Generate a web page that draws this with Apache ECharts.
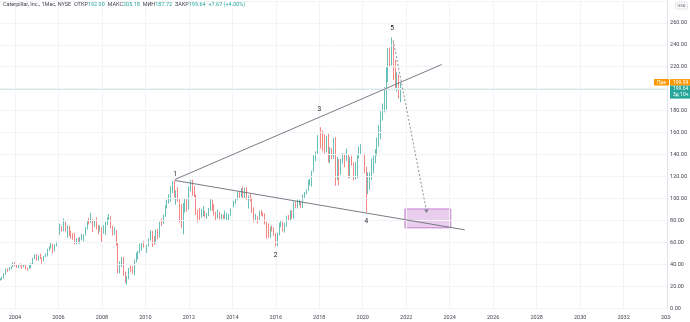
<!DOCTYPE html>
<html><head><meta charset="utf-8">
<script src="https://cdn.jsdelivr.net/npm/echarts@6/dist/echarts.min.js"></script>
<style>html,body{margin:0;padding:0;background:#fff}#c{width:690px;height:322px}</style>
</head><body><div id="c"></div>
<script>
// Monthly bars: [month, open, high, low, close]
const bars2003_2007 = [
['2003-04',24.6,26.9,24.0,26.3],['2003-05',26.3,27.6,25.4,26.5],['2003-06',26.5,29.0,26.0,27.8],['2003-07',27.8,32.0,27.3,31.0],['2003-08',31.0,36.3,30.8,35.8],['2003-09',35.8,36.6,33.3,34.4],['2003-10',34.4,37.5,34.2,36.6],['2003-11',36.6,38.5,35.7,38.0],['2003-12',38.0,42.0,37.8,41.5],
['2004-01',41.5,42.2,38.3,39.3],['2004-02',39.3,39.8,36.9,38.9],['2004-03',38.9,40.2,36.6,39.5],['2004-04',39.5,41.2,38.3,38.9],['2004-05',38.9,39.4,35.9,37.8],['2004-06',37.8,40.2,37.5,39.7],['2004-07',39.7,40.2,35.6,36.8],['2004-08',36.8,37.2,34.3,36.3],['2004-09',36.3,40.5,35.8,40.2],['2004-10',40.2,41.4,37.0,40.3],['2004-11',40.3,46.0,40.0,45.7],['2004-12',45.7,49.4,45.0,48.8],
['2005-01',48.8,49.5,43.5,44.5],['2005-02',44.5,48.2,43.3,47.5],['2005-03',47.5,50.0,45.0,45.7],['2005-04',45.7,46.5,40.8,44.0],['2005-05',44.0,48.0,43.0,47.0],['2005-06',47.0,50.2,46.8,47.7],['2005-07',47.7,54.5,47.4,53.9],['2005-08',53.9,56.7,52.5,55.4],['2005-09',55.4,59.8,54.5,58.8],['2005-10',58.8,59.0,50.2,52.6],['2005-11',52.6,58.5,51.8,57.8],['2005-12',57.8,61.0,56.5,57.8],
['2006-01',57.8,68.4,57.0,67.9],['2006-02',67.9,77.2,67.0,73.1],['2006-03',73.1,75.0,70.0,71.8],['2006-04',71.8,82.0,70.2,75.7],['2006-05',75.7,79.0,70.0,72.9],['2006-06',72.9,75.5,64.4,74.5],['2006-07',74.5,75.2,65.8,70.9],['2006-08',70.9,71.0,63.4,66.3],['2006-09',66.3,68.5,62.5,65.8],['2006-10',65.8,69.0,58.3,60.7],['2006-11',60.7,64.0,58.5,62.0],['2006-12',62.0,64.5,60.0,61.3],
['2007-01',61.3,65.0,58.7,64.1],['2007-02',64.1,68.0,62.0,64.4],['2007-03',64.4,67.4,61.0,67.0],['2007-04',67.0,74.0,66.5,72.6],['2007-05',72.6,79.5,71.8,78.4],['2007-06',78.4,82.5,76.5,78.3],['2007-07',78.3,87.0,78.0,78.8],['2007-08',78.8,81.0,69.6,75.8],['2007-09',75.8,80.0,74.0,78.4],['2007-10',78.4,82.9,72.0,74.6],['2007-11',74.6,76.0,67.5,71.9],['2007-12',71.9,75.5,70.0,72.6]
];
const bars2008_2012 = [
['2008-01',72.6,74.0,59.6,71.1],['2008-02',71.1,76.0,68.0,72.3],['2008-03',72.3,79.0,67.0,78.3],['2008-04',78.3,83.0,76.0,81.9],['2008-05',81.9,85.9,79.5,82.6],['2008-06',82.6,84.0,73.0,73.8],['2008-07',73.8,75.5,66.5,69.5],['2008-08',69.5,74.0,67.0,70.7],['2008-09',70.7,71.5,57.0,59.6],['2008-10',59.6,60.0,31.9,38.2],['2008-11',38.2,43.0,32.0,41.0],['2008-12',41.0,47.0,37.8,44.7],
['2009-01',44.7,47.0,30.0,30.8],['2009-02',30.8,33.5,23.5,24.6],['2009-03',24.6,29.5,21.7,28.0],['2009-04',28.0,37.0,26.5,35.6],['2009-05',35.6,39.0,33.5,35.5],['2009-06',35.5,38.5,31.5,33.0],['2009-07',33.0,44.5,30.0,44.1],['2009-08',44.1,51.0,42.0,45.8],['2009-09',45.8,52.5,44.5,51.3],['2009-10',51.3,59.0,50.0,55.1],['2009-11',55.1,60.0,52.5,58.5],['2009-12',58.5,61.3,55.5,57.0],
['2010-01',57.0,60.5,51.5,52.3],['2010-02',52.3,58.0,50.5,57.1],['2010-03',57.1,63.5,56.5,62.9],['2010-04',62.9,71.0,62.0,68.1],['2010-05',68.1,70.5,56.0,60.8],['2010-06',60.8,66.0,58.0,60.1],['2010-07',60.1,72.0,59.0,69.8],['2010-08',69.8,72.5,63.0,65.1],['2010-09',65.1,79.0,64.5,78.7],['2010-10',78.7,82.0,75.0,78.6],['2010-11',78.6,85.5,77.0,84.5],['2010-12',84.5,94.0,83.5,93.7],
['2011-01',93.7,99.0,91.0,97.0],['2011-02',97.0,104.0,95.5,102.9],['2011-03',102.9,111.5,97.0,111.4],['2011-04',111.4,115.9,105.0,115.4],['2011-05',115.4,116.5,101.0,105.8],['2011-06',105.8,107.5,94.5,106.5],['2011-07',106.5,110.5,97.0,98.8],['2011-08',98.8,99.5,78.3,91.0],['2011-09',91.0,95.0,73.2,73.8],['2011-10',73.8,96.0,67.5,94.5],['2011-11',94.5,100.0,87.5,97.9],['2011-12',97.9,99.5,88.0,90.6],
['2012-01',90.6,111.0,90.0,109.1],['2012-02',109.1,116.9,106.5,114.2],['2012-03',114.2,117.0,102.5,106.5],['2012-04',106.5,111.5,101.5,102.8],['2012-05',102.8,104.0,85.0,87.6],['2012-06',87.6,90.0,78.5,84.9],['2012-07',84.9,91.5,79.8,84.2],['2012-08',84.2,90.5,82.5,85.3],['2012-09',85.3,93.0,84.0,86.0],['2012-10',86.0,89.0,83.0,84.8],['2012-11',84.8,87.0,81.5,85.3],['2012-12',85.3,91.5,84.0,89.6]
];
const bars2013_2017 = [
['2013-01',89.6,99.5,89.0,98.4],['2013-02',98.4,99.0,89.0,92.4],['2013-03',92.4,95.0,84.5,87.0],['2013-04',87.0,88.0,80.5,84.7],['2013-05',84.7,90.0,82.0,85.8],['2013-06',85.8,88.0,81.0,82.5],['2013-07',82.5,86.0,81.0,82.9],['2013-08',82.9,85.5,81.5,82.5],['2013-09',82.5,89.0,81.5,83.4],['2013-10',83.4,87.0,80.0,83.4],['2013-11',83.4,86.0,80.5,84.8],['2013-12',84.8,91.0,84.0,90.8],
['2014-01',90.8,95.0,87.5,94.0],['2014-02',94.0,98.0,92.0,97.0],['2014-03',97.0,100.0,95.0,99.4],['2014-04',99.4,106.5,98.5,105.4],['2014-05',105.4,106.0,100.5,102.2],['2014-06',102.2,109.5,101.5,108.7],['2014-07',108.7,111.0,100.0,100.8],['2014-08',100.8,110.0,100.5,109.2],['2014-09',109.2,110.5,98.5,99.0],['2014-10',99.0,103.0,91.0,101.4],['2014-11',101.4,104.5,97.5,100.6],['2014-12',100.6,101.0,87.0,91.5],
['2015-01',91.5,92.0,78.5,80.0],['2015-02',80.0,86.0,79.5,82.9],['2015-03',82.9,84.0,77.5,80.0],['2015-04',80.0,89.0,79.5,86.9],['2015-05',86.9,89.5,84.5,85.4],['2015-06',85.4,87.5,83.5,84.8],['2015-07',84.8,86.5,76.5,78.6],['2015-08',78.6,79.0,63.5,76.5],['2015-09',76.5,77.5,64.5,65.4],['2015-10',65.4,74.5,64.0,73.0],['2015-11',73.0,75.5,70.0,72.6],['2015-12',72.6,74.0,66.0,68.0],
['2016-01',68.0,68.5,56.4,62.2],['2016-02',62.2,69.0,57.0,67.7],['2016-03',67.7,78.0,66.5,76.5],['2016-04',76.5,80.5,74.0,77.7],['2016-05',77.7,79.0,70.0,72.5],['2016-06',72.5,78.0,69.0,75.8],['2016-07',75.8,84.5,74.5,82.8],['2016-08',82.8,85.0,80.0,81.9],['2016-09',81.9,89.5,79.5,88.8],['2016-10',88.8,89.5,81.5,83.5],['2016-11',83.5,97.5,82.0,96.7],['2016-12',96.7,97.5,91.5,92.7],
['2017-01',92.7,99.0,91.0,95.7],['2017-02',95.7,99.0,94.0,96.7],['2017-03',96.7,97.5,91.5,92.8],['2017-04',92.8,104.0,91.5,102.3],['2017-05',102.3,106.0,99.5,105.4],['2017-06',105.4,108.5,104.0,107.5],['2017-07',107.5,117.0,107.0,114.0],['2017-08',114.0,118.0,112.0,117.5],['2017-09',117.5,125.5,111.0,124.7],['2017-10',124.7,139.5,124.0,135.8],['2017-11',135.8,143.0,134.0,141.1],['2017-12',141.1,158.0,139.5,157.6]
];
const bars2018_2021 = [
['2018-01',157.6,173.2,156.0,162.8],['2018-02',162.8,165.0,145.5,154.7],['2018-03',154.7,162.0,143.0,147.4],['2018-04',147.4,158.5,141.0,144.4],['2018-05',144.4,157.0,142.0,151.9],['2018-06',151.9,159.0,133.0,135.7],['2018-07',135.7,147.0,132.0,143.8],['2018-08',143.8,146.0,136.0,138.8],['2018-09',138.8,155.0,136.5,152.5],['2018-10',152.5,156.0,111.8,121.3],['2018-11',121.3,138.0,117.0,135.7],['2018-12',135.7,136.0,112.1,127.1],
['2019-01',127.1,136.0,121.5,133.2],['2019-02',133.2,141.5,132.0,137.1],['2019-03',137.1,141.0,128.5,135.5],['2019-04',135.5,145.5,134.0,139.4],['2019-05',139.4,140.5,118.5,119.8],['2019-06',119.8,138.0,119.0,136.3],['2019-07',136.3,139.0,130.0,131.7],['2019-08',131.7,133.0,116.5,119.0],['2019-09',119.0,133.5,117.5,126.3],['2019-10',126.3,139.5,118.5,137.8],['2019-11',137.8,147.5,136.5,144.7],['2019-12',144.7,149.5,140.0,147.7],
['2020-01',147.7,150.0,130.5,131.4],['2020-02',131.4,141.0,123.0,124.3],['2020-03',124.3,129.0,87.5,116.0],['2020-04',116.0,124.0,104.0,116.4],['2020-05',116.4,124.0,108.0,120.1],['2020-06',120.1,136.5,117.0,126.5],['2020-07',126.5,139.0,123.0,132.9],['2020-08',132.9,145.0,132.0,142.3],['2020-09',142.3,155.5,139.0,149.2],['2020-10',149.2,167.0,147.0,157.1],['2020-11',157.1,179.5,154.0,173.6],['2020-12',173.6,186.5,171.0,182.0],
['2021-01',182.0,201.5,178.5,182.8],['2021-02',182.8,219.5,181.0,216.0],['2021-03',216.0,237.0,206.0,231.9],['2021-04',231.9,237.5,220.0,228.1],['2021-05',228.1,246.7,221.0,241.1],['2021-06',241.1,242.0,208.0,217.6],['2021-07',217.6,226.5,200.5,206.8],['2021-08',206.8,215.0,197.5,210.9],['2021-09',210.9,213.0,191.0,192.0],['2021-10',192.9,205.18,187.72,199.64]
];
const yearTicks = [2004,2006,2008,2010,2012,2014,2016,2018,2020,2022,2024,2026,2028,2030,2032,2034];
const xStart = 2003.3135, xEnd = 2034;
const lastPrice = 199.64, prePrice = 199.99;
// Annotations in data units: [decimal year, price]
const upperTrend = [[2011.37,117.5],[2023.63,222]];
const lowerTrend = [[2011.37,116.5],[2024.69,71.6]];
const projection = [[2021.40,244],[2022.95,87]];
const targetBox = [[2021.94,90.6],[2024.05,73.4]];
const waveLabels = [['1',2011.37,121.6],['2',2015.99,48],['3',2018.0,181],['4',2020.16,79.6],['5',2021.35,255]];

const allBars = bars2003_2007.concat(bars2008_2012, bars2013_2017, bars2018_2021);
function toYear(s){const p=s.split('-');return +p[0]+(+p[1]-1)/12;}
const candleData = allBars.map(b=>[toYear(b[0]), b[1], b[4], b[3], b[2]]);

const UP='#26a69a', DN='#ef5350', FONT='Roboto, "Liberation Sans", sans-serif';
const chart = echarts.init(document.getElementById('c'), null, {renderer:'canvas'});
chart.setOption({
  animation:false,
  grid:{left:0, right:19.5, top:0.8, bottom:13.5},
  xAxis:{type:'value', min:xStart, max:xEnd,
    offset:4,
    axisLine:{show:true,lineStyle:{color:'#e0e3eb'}}, axisTick:{show:false, customValues:yearTicks},
    axisLabel:{fontSize:5.5,color:'#434651',fontFamily:FONT,margin:2,formatter:v=>String(Math.round(v)),
      customValues:yearTicks, hideOverlap:false},
    splitLine:{show:false}},
  yAxis:{type:'value', position:'right', min:0, max:280, interval:20, z:5,
    axisLine:{show:true,lineStyle:{color:'#e0e3eb'}}, axisTick:{show:false},
    axisLabel:{fontSize:5.5,color:'#434651',fontFamily:FONT,margin:3,formatter:v=>v.toFixed(2),showMaxLabel:false},
    splitLine:{show:true,lineStyle:{color:'#f2f3f6',width:1}}},
  series:[{
    type:'candlestick', data:candleData, barWidth:1.2, clip:true,
    encode:{x:0,y:[1,2,3,4]},
    itemStyle:{color:UP,color0:DN,borderColor:UP,borderColor0:DN,borderWidth:0.7},
    markLine:{silent:true, symbol:'none', animation:false, label:{show:false},
      data:[
        ...yearTicks.map(y=>[{coord:[y,0],lineStyle:{color:'#f2f3f6',width:1,type:'solid'}},{coord:[y,280]}]),
        [{coord:[xStart,lastPrice],lineStyle:{color:'#cfece8',width:1,type:'solid',opacity:1}},{coord:[xEnd,lastPrice]}],
        [{coord:upperTrend[0],lineStyle:{color:'#6a6d78',width:0.9,type:'solid'}},{coord:upperTrend[1]}],
        [{coord:lowerTrend[0],lineStyle:{color:'#6a6d78',width:0.9,type:'solid'}},{coord:lowerTrend[1]}],
        [{coord:projection[0],symbol:'none',lineStyle:{color:'#80838c',width:0.9,type:[2,2]}},{coord:projection[1],symbol:'arrow',symbolSize:[4,4]}]
      ]},
    markArea:{silent:true,
      itemStyle:{color:'rgba(206,147,216,0.45)',borderColor:'#ba68c8',borderWidth:0.8},
      data:[[{coord:targetBox[0]},{coord:targetBox[1]}]]},
    markPoint:{silent:true, symbol:'circle', symbolSize:0,
      label:{show:true,color:'#131722',fontSize:6.5,fontFamily:FONT,formatter:p=>p.name,position:'inside'},
      data:waveLabels.map(w=>({name:w[0],coord:[w[1],w[2]]}))}
  }]
});

const yLast = chart.convertToPixel({xAxisIndex:0,yAxisIndex:0},[2020,lastPrice])[1];
const tealTop = yLast-3.5, orangeTop = tealTop-6.5;
chart.setOption({graphic:[
  {type:'rect',z:100,shape:{x:671,y:313,width:19,height:9},style:{fill:'#fff'}},
  {type:'text',z:100,left:3,top:2,style:{fontFamily:FONT,fontSize:5.5,
    text:'{t|Caterpillar, Inc., 1Мес, NYSE}  {t|ОТКР}{v|192.90}  {t|МАКС}{v|205.18}  {t|МИН}{v|187.72}  {t|ЗАКР}{v|199.64}  {v|+7.67 (+4.00%)}',
    rich:{t:{fill:'#434651',fontSize:5.5,fontFamily:FONT},v:{fill:'#26a69a',fontSize:5.5,fontFamily:FONT}}}},
  {type:'rect',z:100,shape:{x:675.5,y:2,width:12,height:7,r:2},style:{fill:'#fff',stroke:'#c9ccd4',lineWidth:0.6}},
  {type:'text',z:101,style:{x:681.5,y:5.5,text:'USD',fontSize:4.2,fill:'#434651',align:'center',verticalAlign:'middle',fontFamily:FONT}},
  {type:'rect',z:100,shape:{x:654,y:orangeTop,width:15,height:6.5,r:0.5},style:{fill:'#ff9800'}},
  {type:'text',z:101,style:{x:657,y:orangeTop+3.3,text:'Пре',fontSize:5,fill:'#fff',verticalAlign:'middle',fontFamily:FONT}},
  {type:'rect',z:100,shape:{x:670,y:orangeTop,width:20,height:6.5},style:{fill:'#ff9800'}},
  {type:'text',z:101,style:{x:673,y:orangeTop+3.3,text:prePrice.toFixed(2),fontSize:5,fill:'#fff',verticalAlign:'middle',fontFamily:FONT}},
  {type:'rect',z:100,shape:{x:670,y:tealTop,width:20,height:13},style:{fill:'#26a69a'}},
  {type:'text',z:101,style:{x:673,y:tealTop+3.4,text:lastPrice.toFixed(2),fontSize:5,fill:'#fff',verticalAlign:'middle',fontFamily:FONT}},
  {type:'text',z:101,style:{x:673,y:tealTop+9.6,text:'3д 10ч',fontSize:5,fill:'#fff',verticalAlign:'middle',fontFamily:FONT}}
]});
</script></body></html>
